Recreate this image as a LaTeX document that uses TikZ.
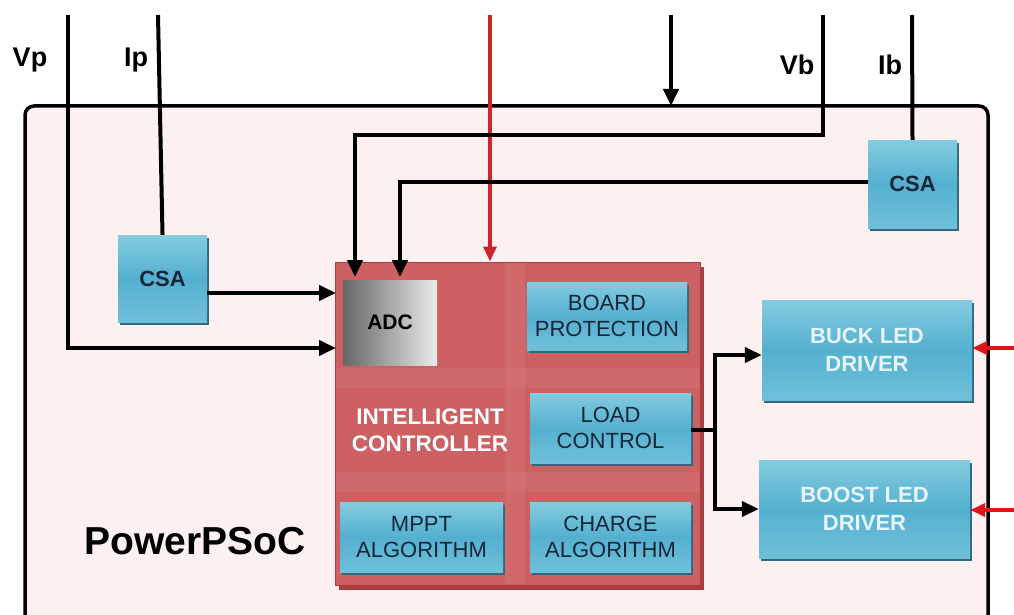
\documentclass[tikz,border=0pt]{standalone}
\usepackage{fontspec}
\setmainfont{Liberation Sans}
\usetikzlibrary{arrows.meta,shadows}
\definecolor{pinkbg}{RGB}{253,240,240}
\definecolor{ctrlred}{RGB}{204,96,98}
\definecolor{ctrlband}{RGB}{220,128,128}
\definecolor{ctrledge}{RGB}{168,62,66}
\definecolor{btop}{RGB}{132,204,224}
\definecolor{bmid}{RGB}{84,176,208}
\definecolor{bbot}{RGB}{112,192,218}
\definecolor{bshadow}{RGB}{46,104,126}
\definecolor{navy}{RGB}{22,38,56}
\definecolor{lighttxt}{RGB}{230,246,251}
\definecolor{redline}{RGB}{200,40,44}
\definecolor{arrred}{RGB}{225,20,24}
\tikzset{
  bluebox/.style={draw=none, top color=btop, bottom color=bbot, middle color=bmid,
    drop shadow={shadow xshift=2pt, shadow yshift=-3pt, fill=bshadow, opacity=1},
    align=center, inner sep=0pt, font=\fontsize{22}{25}\selectfont\bfseries, text=navy},
  blk/.style={line width=4pt, draw=black},
  arr/.style={blk, -{Triangle[length=17pt,width=15pt]}},
  redarr/.style={line width=3.5pt, draw=arrred, -{Triangle[length=15pt,width=13pt]}},
  lbl/.style={font=\fontsize{27}{30}\selectfont\bfseries, anchor=base, inner sep=0pt}
}
\begin{document}
\begin{tikzpicture}[x=1pt,y=-1pt]
\useasboundingbox (0,0) rectangle (1014,615);
\clip (0,0) rectangle (1014,615);
\fill[white] (0,0) rectangle (1014,615);
% outer PowerPSoC box
\draw[line width=3.5pt, fill=pinkbg, rounded corners=9pt] (25,106) rectangle (988,650);
\node[font=\fontsize{39}{44}\selectfont\bfseries, anchor=base, inner sep=0pt] (psoc) at (195,554) {PowerPSoC};

% controller
\fill[ctrledge] (339,267) rectangle (704,590);
\node[draw=ctrledge, line width=1pt, fill=ctrlred, minimum width=365pt, minimum height=323pt, inner sep=0pt] (ctrl) at (517.5,423.5) {};
\fill[ctrlband, opacity=0.3] (505,263) rectangle (525,584);
\fill[ctrlband, opacity=0.3] (336,368) rectangle (699,388);
\fill[ctrlband, opacity=0.3] (336,472) rectangle (699,492);
\node[font=\fontsize{22.5}{27}\selectfont\bfseries, text=white, align=center, inner sep=0pt] (ictext) at (430,430) {INTELLIGENT\\CONTROLLER};
\node[left color=black!60, right color=black!8, minimum width=94pt, minimum height=85pt, inner sep=0pt, font=\fontsize{21}{24}\selectfont\bfseries] (adc) at (390,322.5) {ADC};
\node[bluebox, font=\fontsize{22}{26}\selectfont, minimum width=160pt, minimum height=68pt] (bp) at (607,316) {BOARD\\PROTECTION};
\node[bluebox, font=\fontsize{22}{26}\selectfont, minimum width=161pt, minimum height=70pt] (lc) at (610.5,428) {LOAD\\CONTROL};
\node[bluebox, font=\fontsize{22}{26}\selectfont, minimum width=163pt, minimum height=70pt] (mppt) at (421.5,537) {MPPT\\ALGORITHM};
\node[bluebox, font=\fontsize{22}{26}\selectfont, minimum width=161pt, minimum height=70pt] (chg) at (610.5,537) {CHARGE\\ALGORITHM};

% CSAs
\node[bluebox, minimum width=89pt, minimum height=87pt] (csa1) at (162.5,278.5) {CSA};
\node[bluebox, minimum width=89pt, minimum height=88pt] (csa2) at (912.5,184) {CSA};

% drivers
\node[bluebox, text=lighttxt, font=\fontsize{22}{28}\selectfont\bfseries, minimum width=210pt, minimum height=100pt] (buck) at (867,350) {BUCK LED\\DRIVER};
\node[bluebox, text=lighttxt, font=\fontsize{22}{28}\selectfont\bfseries, minimum width=211pt, minimum height=98pt] (boost) at (864.5,509) {BOOST LED\\DRIVER};

% labels
\node[lbl] (lvp) at (30,67) {Vp};
\node[lbl] (lip) at (136,67) {Ip};
\node[lbl] (lvb) at (797,75) {Vb};
\node[lbl] (lib) at (890,75) {Ib};

% coordinates
\coordinate (vptop) at (68,15);
\coordinate (iptop) at (158,15);
\coordinate (redtop) at (490,15);
\coordinate (bustop) at (671,15);
\coordinate (vbtop) at (823,15);
\coordinate (ibtop) at (912,15);
\coordinate (vbbend) at (823,135);
\coordinate (vbin) at (355,277);
\coordinate (ibin) at (400,277);
\coordinate (vpin) at (336,348);
\coordinate (csain) at (336,293);
\coordinate (busin) at (671,106);
\coordinate (split) at (715,430);
\coordinate (rin1) at (1014,348);
\coordinate (rin2) at (1014,510);

% connectors
\draw[arr] (vptop) |- (vpin);
\draw[blk] (iptop) -- (csa1.north);
\draw[arr] (csa1.east |- csain) -- (csain);
\draw[line width=3.5pt, draw=redline, -{Triangle[length=15pt,width=13pt]}] (redtop) -- (redtop |- ctrl.north);
\draw[arr] (bustop) -- (busin);
\draw[arr] (vbtop) -- (vbbend) -| (vbin);
\draw[blk] (ibtop) -- (csa2.north);
\draw[arr] (csa2.west |- 0,182) -| (ibin);
\draw[blk] (lc.east |- split) -- (split);
\draw[arr] (split) |- (buck.west |- 0,355);
\draw[arr] (split) |- (boost.west);
\draw[redarr] (rin1) -- (buck.east |- rin1);
\draw[redarr] (rin2) -- (boost.east |- rin2);
\end{tikzpicture}
\end{document}
